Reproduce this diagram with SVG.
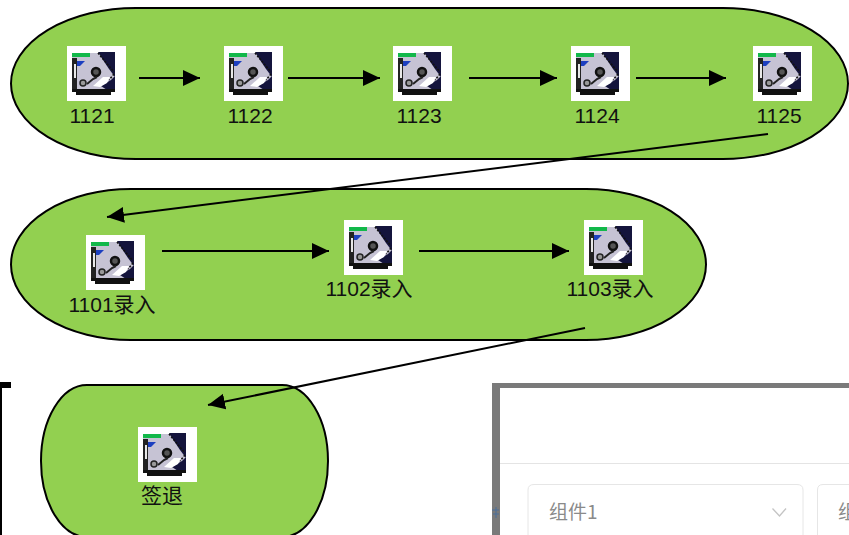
<svg xmlns="http://www.w3.org/2000/svg" width="849" height="535" viewBox="0 0 849 535">
<style>
.pill{fill:#92d050;stroke:#000;stroke-width:2}
.c{fill:none;stroke:#000;stroke-width:2;marker-end:url(#ah)}
.t{font-family:"Liberation Sans","Noto Sans CJK SC",sans-serif;font-size:21px;fill:#111;text-anchor:middle}
.q{font-family:"Noto Sans CJK SC","Liberation Sans",sans-serif;font-size:19px;fill:#8a8a8a}
</style>
<defs>
<marker id="ah" markerUnits="userSpaceOnUse" markerWidth="18" markerHeight="18" refX="17" refY="8" orient="auto"><path d="M0 0L17 8L0 16Z" fill="#000"/></marker>
<symbol id="icon" width="59" height="55" viewBox="0 0 59 55">
<rect width="59" height="55" fill="#fff"/>
<path d="M5 7H32L47 26V34L40 44H10V12H5Z" fill="#c6c3d4"/>
<path d="M31 6H48V31L42 23L36 14Z" fill="#14143c"/>
<path d="M48 30V44H40L34 40L44 34Z" fill="#14143c"/>
<path d="M5 7H23V11H5Z" fill="#12b84a"/>
<path d="M9 15H18L13 20H9Z" fill="#1c3fc0"/>
<path d="M5 12H10V44H5Z" fill="#222"/>
<path d="M7 18H9V32H7Z" fill="#e8e8e8"/>
<path d="M31 7L47 26M47 28L42 34" stroke="#111" stroke-width="1.600" stroke-dasharray="2 1.500" fill="none"/>
<circle cx="29" cy="26" r="4" fill="#555" stroke="#111" stroke-width="2.500"/>
<circle cx="16" cy="37" r="3" fill="#999" stroke="#222" stroke-width="1.500"/>
<path d="M20 38L26 33L30 31" fill="none" stroke="#222" stroke-width="2"/>
<path d="M26 40L36 31H43L40 37L33 41Z" fill="#fff"/>
<path d="M5 43H48V46H5Z" fill="#111"/>
<path d="M9 46H44V49H9Z" fill="#111"/>
</symbol>
</defs>
<rect width="849" height="535" fill="#fff"/>

<g id="frame-left">
<rect x="0" y="382" width="11" height="6" fill="#000"/>
<rect x="0" y="385" width="2" height="150" fill="#000"/>
</g>

<g id="screenshot">
<rect x="492" y="383" width="357" height="152" fill="#7a7a7a"/>
<rect x="500" y="388" width="349" height="147" fill="#fff"/>
<path d="M500 463.500H849" stroke="#e4e4e4"/>
<path d="M492 510H499M493 514H499M496 507V518" stroke="#4a6f9a" stroke-width="1"/>
<path d="M528 536V490Q528 484.500 534 484.500H797Q803 484.500 803 490V536" fill="none" stroke="#e6e6e6"/>
<path d="M849 484.500H823Q817.500 484.500 817.500 490V536" fill="none" stroke="#e6e6e6"/>
<path d="M772.500 508.500L779.500 516L786 508.500" fill="none" stroke="#c4c4c4" stroke-width="1.300"/>
<text class="q" x="549" y="519">组件1</text>
<text class="q" x="838" y="519">组</text>
</g>

<g id="pill-1"><rect class="pill" x="11" y="8" width="837" height="151" rx="125" ry="75.500"/></g>
<g id="pill-2"><rect class="pill" x="11" y="189" width="695" height="151" rx="120" ry="75.500"/></g>
<g id="pill-3"><rect class="pill" x="41" y="385" width="287" height="152" rx="46" ry="76"/></g>

<g id="n1121"><use href="#icon" x="67" y="46"/><text class="t" x="92" y="123">1121</text></g>
<g id="n1122"><use href="#icon" x="224" y="46"/><text class="t" x="250" y="123">1122</text></g>
<g id="n1123"><use href="#icon" x="393" y="46"/><text class="t" x="419" y="123">1123</text></g>
<g id="n1124"><use href="#icon" x="571" y="46"/><text class="t" x="597" y="123">1124</text></g>
<g id="n1125"><use href="#icon" x="753" y="46"/><text class="t" x="779" y="123">1125</text></g>
<g id="n1101"><use href="#icon" x="86" y="235"/><text class="t" x="112" y="312">1101录入</text></g>
<g id="n1102"><use href="#icon" x="344" y="220"/><text class="t" x="369" y="296">1102录入</text></g>
<g id="n1103"><use href="#icon" x="584" y="220"/><text class="t" x="610" y="296">1103录入</text></g>
<g id="n-signout"><use href="#icon" x="138" y="427"/><text class="t" x="162" y="503">签退</text></g>

<g id="connectors">
<path class="c" d="M139 78H200"/>
<path class="c" d="M288 78H380"/>
<path class="c" d="M469 78H557"/>
<path class="c" d="M636 78H726"/>
<path class="c" d="M768 134L107 217"/>
<path class="c" d="M162 251H329"/>
<path class="c" d="M419 251H569"/>
<path class="c" d="M585 328L208 405"/>
</g>
</svg>
